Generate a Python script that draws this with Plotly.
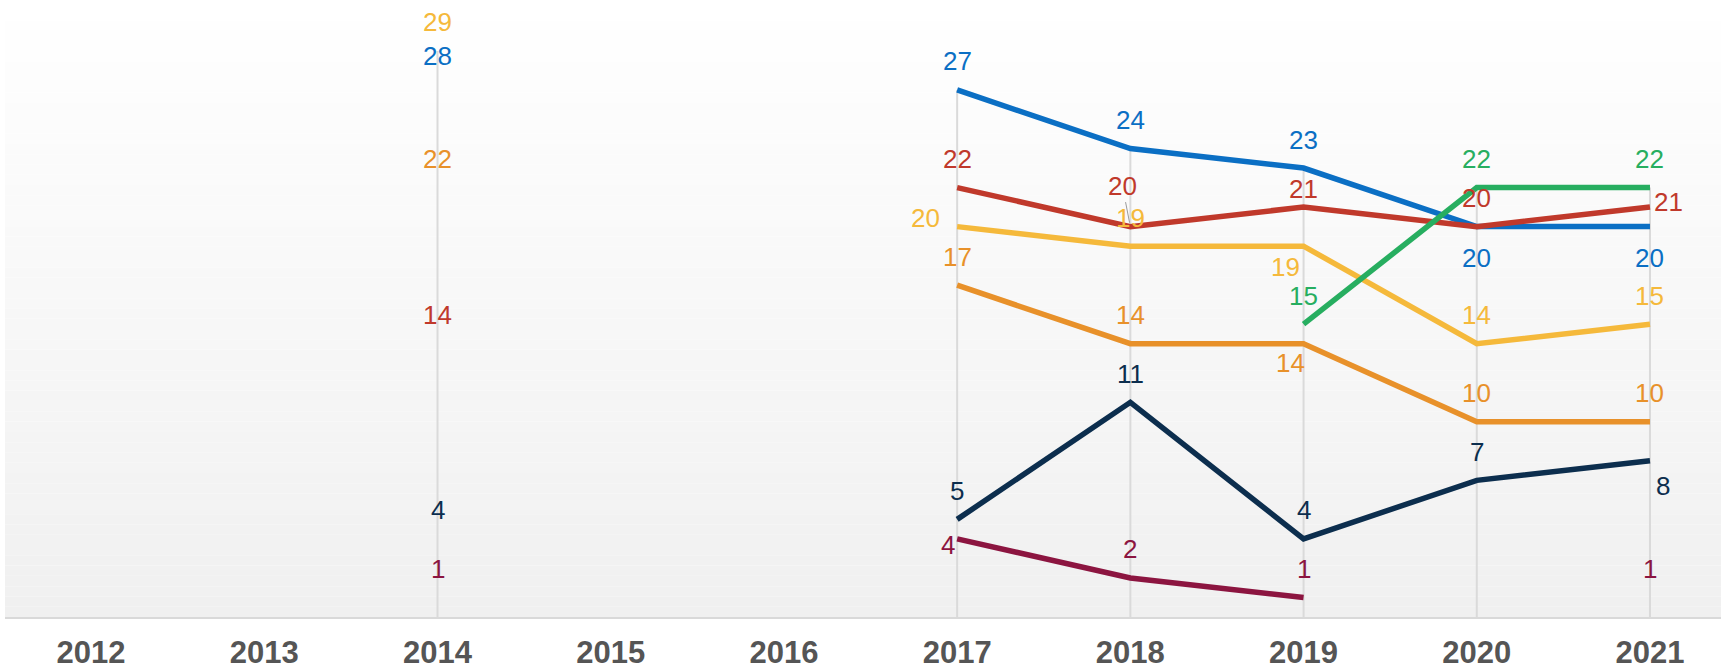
import plotly.graph_objects as go

# ---------------- data ----------------
years = [2012, 2013, 2014, 2015, 2016, 2017, 2018, 2019, 2020, 2021]
tick_labels = [str(y) for y in years]
line_years = [2017, 2018, 2019, 2020, 2021]
lone_year = 2014

series_names = ["Blue", "Red", "Yellow", "Orange", "Green", "Navy", "Maroon"]
blue = [27, 24, 23, 20, 20]
red = [22, 20, 21, 20, 21]
yellow = [20, 19, 19, 14, 15]
orange = [17, 14, 14, 10, 10]
green = [None, None, 15, 22, 22]
navy = [5, 11, 4, 7, 8]
maroon = [4, 2, 1, None, 1]
values_2014 = [28, 14, 29, 22, None, 4, 1]

series_values = [blue, red, yellow, orange, green, navy, maroon]
colors = ["#0b6fc4", "#c0392b", "#f5b93b", "#e8912a", "#27ae60", "#0c2e4e", "#8c1540"]

# label offsets (px) for labels that are not simply above the point
label_shift = {
    ("Yellow", 2017): (-32, 9),
    ("Maroon", 2017): (-9, -6),
    ("Red", 2019): (0, 18),
    ("Yellow", 2019): (-18, -21),
    ("Orange", 2019): (-13, -19),
    ("Blue", 2020): (0, -31),
    ("Blue", 2021): (0, -31),
    ("Red", 2021): (19, 5),
    ("Navy", 2021): (13, -25),
}
shift_2014 = {"Blue": (0, 14)}
DEFAULT_UP = 28.5

Y_RANGE = [0, 31.61]

fig = go.Figure()

# drop lines (from highest value down to the axis)
drop_years = [lone_year] + line_years
drop_max = [max(v for v in values_2014 if v is not None)]
for i, yr in enumerate(line_years):
    drop_max.append(max(s[i] for s in series_values if s[i] is not None))
for yr, m in zip(drop_years, drop_max):
    fig.add_trace(go.Scatter(x=[yr, yr], y=[m, 0], mode="lines",
                             line=dict(color="#dadada", width=2),
                             hoverinfo="skip", showlegend=False))

# series lines
for name, vals, col in zip(series_names, series_values, colors):
    fig.add_trace(go.Scatter(x=line_years, y=vals, mode="lines", name=name,
                             line=dict(color=col, width=5.5), connectgaps=False,
                             showlegend=False))

annotations = []
font_family = "Liberation Sans, Arial, sans-serif"
for name, vals, col in zip(series_names, series_values, colors):
    for yr, v in zip(line_years, vals):
        if v is None:
            continue
        dx, dy = label_shift.get((name, yr), (0, DEFAULT_UP))
        annotations.append(dict(x=yr, y=v, xref="x", yref="y", text=str(v),
                                showarrow=False, xshift=dx, yshift=dy,
                                font=dict(family=font_family, size=26, color=col)))
# label with connector (2018 red)
for a in annotations:
    if a["x"] == 2018 and a["font"]["color"] == colors[1]:
        a.update(showarrow=True, ax=-8, ay=-41, axref="pixel", ayref="pixel",
                 arrowhead=0, arrowwidth=1, arrowcolor="#9a9a9a", standoff=4,
                 xshift=0, yshift=0)

for name, v, col in zip(series_names, values_2014, colors):
    if v is None:
        continue
    dx, dy = shift_2014.get(name, (0, DEFAULT_UP))
    annotations.append(dict(x=lone_year, y=v, xref="x", yref="y", text=str(v),
                            showarrow=False, xshift=dx, yshift=dy,
                            font=dict(family=font_family, size=26, color=col)))

# background gradient (white top -> light gray bottom)
shapes = []
n = 60
top = (255, 255, 255)
bot = (240, 240, 240)
for i in range(n):
    t = (i + 0.5) / n
    c = tuple(round(bot[k] + (top[k] - bot[k]) * t) for k in range(3))
    shapes.append(dict(type="rect", xref="paper", yref="paper",
                       x0=0, x1=1, y0=i / n, y1=(i + 1) / n,
                       fillcolor="rgb(%d,%d,%d)" % c, line=dict(width=0),
                       layer="below"))

fig.update_layout(
    width=1721, height=669,
    margin=dict(l=5, r=0, t=0, b=52, autoexpand=False),
    paper_bgcolor="#ffffff", plot_bgcolor="#ffffff",
    showlegend=False,
    shapes=shapes,
    annotations=annotations,
    xaxis=dict(range=[2011.503, 2021.41], tickvals=years, ticktext=tick_labels,
               showgrid=False, zeroline=False, showline=True, linecolor="#d9d9d9",
               linewidth=2, ticks="", ticklabelstandoff=7, automargin=False,
               tickfont=dict(family=font_family, size=31, color="#555555", weight="bold")),
    yaxis=dict(range=Y_RANGE, visible=False, showgrid=False, zeroline=False,
               automargin=False),
)

fig.write_html("out.html", config={"displayModeBar": False},
               post_script="document.body.style.margin='0';")
